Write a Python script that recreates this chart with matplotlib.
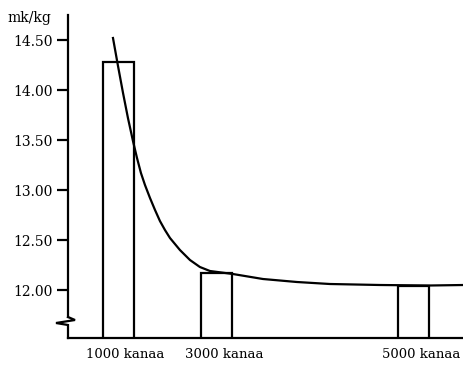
import matplotlib.pyplot as plt
import matplotlib.transforms as mtransforms

# bar positions on a schematic x scale (1000, 3000, 5000 hens)
bar_pos = [1, 2, 4]
bar_labels = ["1000 kanaa", "3000 kanaa", "5000 kanaa"]
bar_vals = [14.28, 12.17, 12.04]

# cost curve (same schematic x scale)
curve_x = [0.944, 0.995, 1.046, 1.096, 1.147, 1.188, 1.228, 1.269, 1.320,
           1.371, 1.421, 1.472, 1.523, 1.624, 1.726, 1.827, 1.929, 2.162,
           2.467, 2.812, 3.147, 3.655, 4.162, 4.51]
curve_y = [14.52, 14.24, 13.97, 13.72, 13.49, 13.32, 13.17, 13.05, 12.92,
           12.80, 12.69, 12.60, 12.52, 12.40, 12.30, 12.23, 12.19, 12.16,
           12.11, 12.08, 12.06, 12.05, 12.045, 12.05]

yticks = [12.00, 12.50, 13.00, 13.50, 14.00, 14.50]
ytick_labels = ["12.00", "12.50", "13.00", "13.50", "14.00", "14.50"]

plt.rcParams['font.family'] = ['DejaVu Serif']
lw = 1.6

fig = plt.figure(figsize=(4.64, 3.72), dpi=100)
ax = fig.add_axes([68 / 464, 34 / 372, 396 / 464, 323 / 372])

ax.bar(bar_pos, bar_vals, width=0.315, fill=False, edgecolor='black', linewidth=lw)
ax.plot(curve_x, curve_y, color='black', linewidth=lw)

ax.set_xlim(0.487, 4.51)
ax.set_ylim(11.52, 14.75)

# y axis with a break near the bottom
ax.spines['right'].set_visible(False)
ax.spines['top'].set_visible(False)
ax.spines['left'].set_bounds(11.73, 14.75)
for s in ('left', 'bottom'):
    ax.spines[s].set_linewidth(lw)
px = 1 / 396
trans = ax.get_yaxis_transform()
ax.plot([0, 0, -12 * px, 7 * px, 0], [11.52, 11.65, 11.67, 11.70, 11.73],
        color='black', linewidth=lw, transform=trans, clip_on=False,
        solid_joinstyle='miter')

ax.set_yticks(yticks)
ax.set_yticklabels(ytick_labels, fontsize=10)
ax.tick_params(axis='y', direction='out', length=8, width=lw, pad=3)

ax.set_xticks(bar_pos)
ax.set_xticklabels(bar_labels, fontsize=9.5)
ax.tick_params(axis='x', length=0, pad=7)
offset = mtransforms.ScaledTranslation(7 / 100, 0, fig.dpi_scale_trans)
for lab in ax.get_xticklabels():
    lab.set_transform(lab.get_transform() + offset)

fig.text(7 / 464, 1 - 22 / 372, "mk/kg", fontsize=10)

fig.savefig("out.png", dpi=100)
